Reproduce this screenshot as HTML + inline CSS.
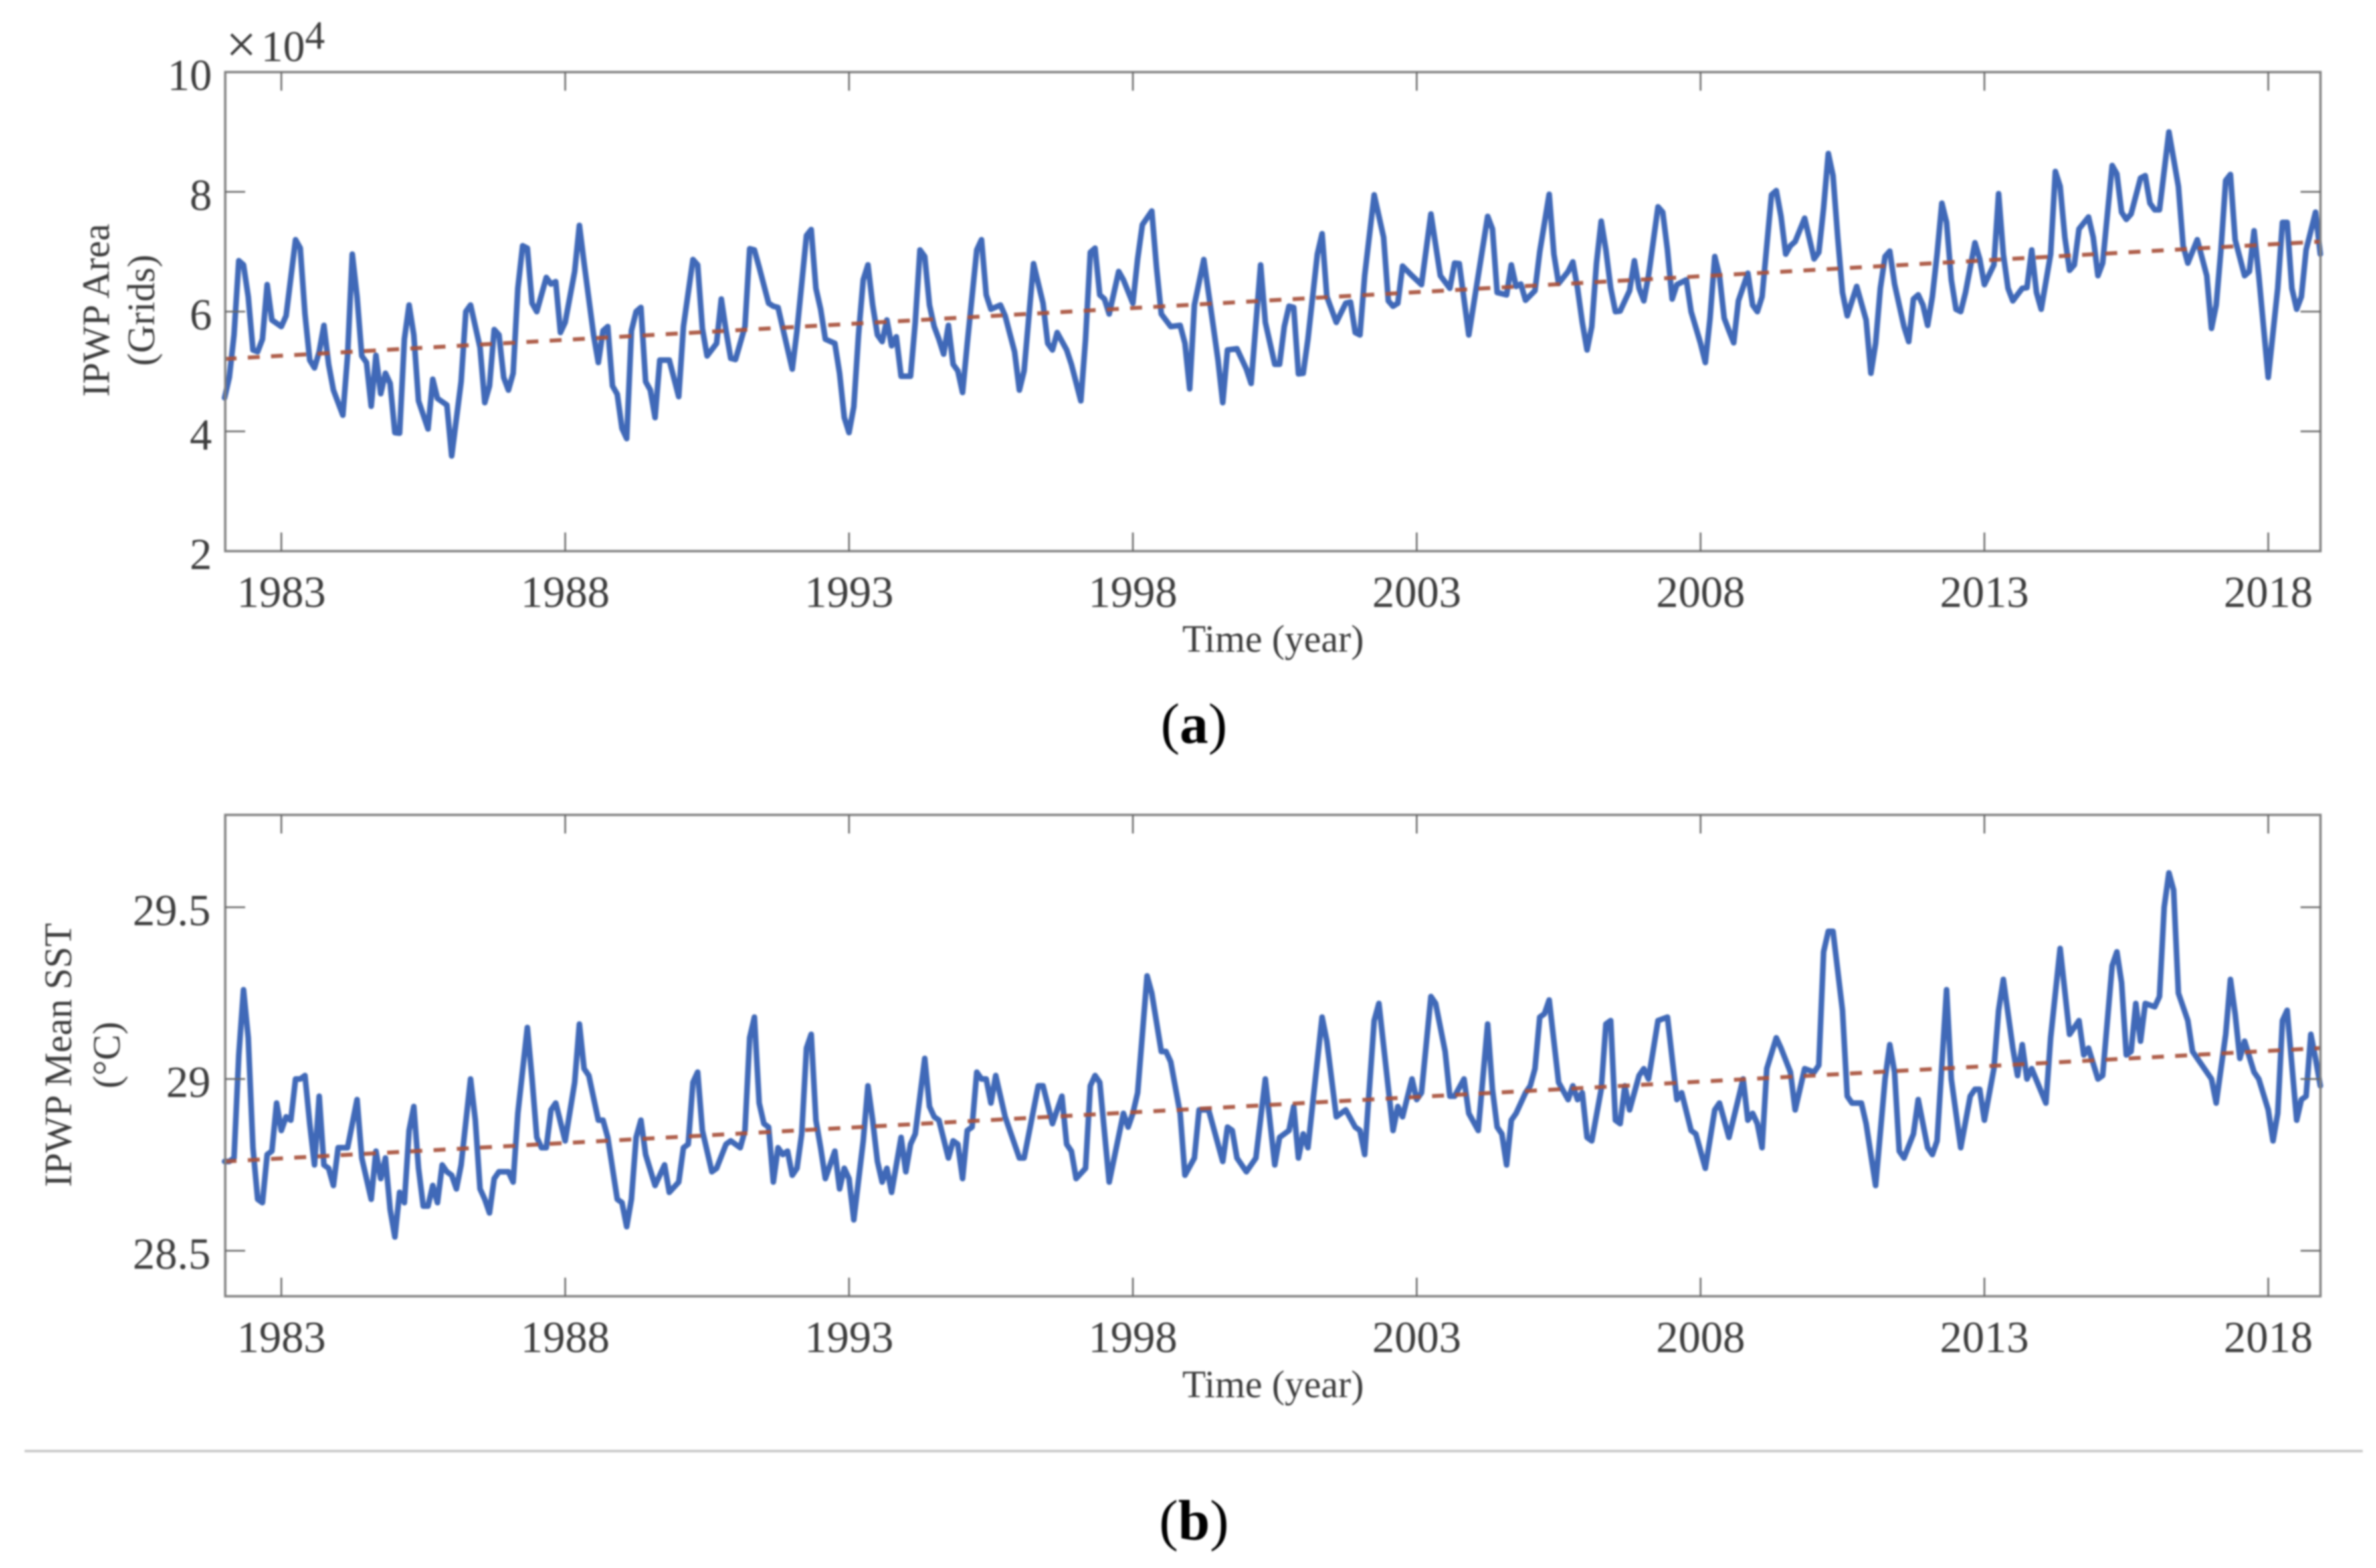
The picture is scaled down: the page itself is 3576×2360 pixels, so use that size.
<!DOCTYPE html>
<html lang="en">
<head>
<meta charset="utf-8">
<title>IPWP Area and Mean SST</title>
<style>
html,body{margin:0;padding:0;background:#fff;}
#figure{display:block;width:3576px;height:2360px;filter:blur(1.3px);}
text{font-family:"Liberation Serif",serif;fill:#3c3c3c;}
.tick{font-size:67px;}
.title{font-size:58px;}
.cap{font-size:86px;fill:#000;}
</style>
</head>
<body>
<svg id="figure" xmlns="http://www.w3.org/2000/svg" width="3576" height="2360" viewBox="0 0 3576 2360">
  <rect width="3576" height="2360" fill="#fff"/>
  <g id="panel-a"></g>
  <g id="panel-b"></g>

  <g>
    <text x="340" y="94" font-size="82">×</text>
    <text x="393" y="92" font-size="66">10</text>
    <text x="459" y="73" font-size="60">4</text>
  </g>
  <text class="title" transform="translate(164 467) rotate(-90)" text-anchor="middle">IPWP Area</text>
  <text class="title" transform="translate(232 467) rotate(-90)" text-anchor="middle">(Grids)</text>
  <text class="title" x="1916" y="981" text-anchor="middle">Time (year)</text>
  <text class="cap" x="1797" y="1118" text-anchor="middle">(<tspan font-weight="bold">a</tspan>)</text>

  <text class="title" transform="translate(107 1588) rotate(-90)" text-anchor="middle">IPWP Mean SST</text>
  <text class="title" transform="translate(180 1588) rotate(-90)" text-anchor="middle">(°C)</text>
  <text class="title" x="1916" y="2103" text-anchor="middle">Time (year)</text>

  <line x1="37" y1="2184" x2="3556" y2="2184" stroke="#c4c4c4" stroke-width="3.5"/>
  <text class="cap" x="1797" y="2317" text-anchor="middle">(<tspan font-weight="bold">b</tspan>)</text>
</svg>

<script>
/* Shared time axis: months counted from January 1982 */
var yearTicks = ["1983","1988","1993","1998","2003","2008","2013","2018"];

/* Panel (a): IPWP area, in units of 10^4 grids */
var areaTicks = [2,4,6,8,10];
var areaMonths = [0,1,2,3,4,5,6,7,8,9,10,12,13,15,16,17,18,19,20,21,22,23,25,26,27,28,29,30,31,32,33,34,35,36,37,38,39,40,41,43,44,45,47,48,50,51,52,54,55,56,57,58,59,60,61,62,63,64,65,66,68,69,70,71,72,74,75,76,78,79,80,81,82,83,84,85,86,87,88,89,90,91,92,94,96,97,99,100,101,102,104,105,106,107,108,110,111,112,113,115,116,117,118,120,121,123,124,
125,126,127,129,130,131,132,133,134,135,136,137,138,139,140,141,142,143,145,146,147,148,149,150,151,152,153,154,155,156,157,159,160,161,162,164,165,167,168,169,171,173,174,175,176,178,179,181,182,183,184,185,186,187,189,190,192,193,194,196,197,198,200,202,203,204,205,207,209,210,211,212,214,216,217,219,220,222,223,224,225,226,227,228,229,231,232,233,235,237,238,239,240,241,243,245,246,247,248,249,251,253,255,257,259,260,261,263,265,267,268,269,271,272,273,274,275,277,278,280,281,282,284,285,286,287,288,
289,290,291,292,293,294,295,297,298,299,300,301,303,304,305,306,307,309,310,312,313,314,315,316,317,318,319,320,322,323,324,325,327,328,329,330,331,332,334,336,337,338,339,340,341,342,343,345,347,348,349,350,351,352,353,355,356,357,358,359,360,361,362,363,364,365,366,367,368,370,371,372,374,375,376,377,378,380,381,382,383,384,386,387,388,389,390,391,392,394,395,396,397,399,400,401,402,403,405,406,407,408,409,411,412,413,414,415,417,419,420,421,422,423,424,425,427,428,429,430,431,432,434,435,436,437,438,439,440,442,443];
var areaValues = [4.56,4.90,5.61,6.85,6.78,6.25,5.36,5.33,5.54,6.45,5.86,5.75,5.93,7.20,7.06,5.96,5.19,5.06,5.33,5.77,5.12,4.69,4.27,5.26,6.96,6.25,5.26,5.15,4.42,5.27,4.63,4.97,4.80,3.98,3.97,5.54,6.11,5.61,4.51,4.04,4.87,4.55,4.44,3.59,4.83,6.00,6.11,5.40,4.48,4.76,5.70,5.61,4.90,4.69,4.97,6.39,7.10,7.06,6.14,6.00,6.57,6.46,6.50,5.65,5.82,6.67,7.44,6.81,5.61,5.15,5.68,5.75,4.76,4.62,4.05,3.88,5.68,6.00,6.07,4.83,4.69,4.23,5.19,5.19,4.58,5.75,6.87,6.78,5.72,5.26,5.47,6.21,5.68,5.22,5.20,5.75,7.05,7.03,6.74,6.14,6.09,6.07,5.72,5.04,5.68,7.27,7.37,
6.39,6.04,5.54,5.47,4.97,4.23,3.98,4.41,5.61,6.53,6.78,6.11,5.61,5.50,5.86,5.43,5.58,4.92,4.92,5.82,7.03,6.92,6.11,5.75,5.54,5.29,5.77,5.12,5.01,4.65,5.47,7.03,7.20,6.28,6.04,6.11,5.93,5.33,4.69,5.01,6.80,6.14,5.47,5.36,5.65,5.36,5.12,4.51,5.54,6.99,7.06,6.28,6.21,5.96,6.67,6.53,6.14,6.88,7.45,7.68,6.74,5.96,5.75,5.77,5.47,4.71,6.11,6.87,5.75,5.19,4.48,5.36,5.38,5.04,4.80,6.78,5.82,5.12,5.12,5.75,6.09,6.07,4.96,4.97,5.54,6.96,7.30,6.25,5.82,6.14,6.16,5.65,5.61,6.60,7.95,7.24,6.18,6.09,6.14,6.76,6.60,6.45,7.63,6.60,6.39,6.81,6.80,5.61,6.60,7.59,7.38,6.32,6.28,6.78,6.42,6.46,6.19,6.35,7.00,7.96,6.96,6.47,6.67,6.83,6.39,5.82,5.36,
5.75,6.81,7.51,7.03,6.39,6.00,6.01,6.35,6.85,6.39,6.18,6.60,7.75,7.66,7.03,6.21,6.45,6.53,6.00,5.47,5.15,5.89,6.92,6.60,5.89,5.68,5.48,6.18,6.64,6.11,6.00,6.25,7.95,8.02,7.59,6.96,7.10,7.17,7.56,6.88,6.99,7.73,8.64,8.27,7.24,6.32,5.93,6.42,5.86,4.97,5.47,6.39,6.92,7.01,6.46,5.75,5.50,6.21,6.28,6.11,5.77,6.25,6.96,7.81,7.49,6.53,6.04,6.00,6.32,7.15,6.88,6.45,6.78,7.97,6.96,6.39,6.18,6.39,6.40,7.03,6.32,6.04,6.96,8.34,8.09,7.24,6.69,6.78,7.38,7.58,7.24,6.60,6.81,8.44,8.30,7.66,7.54,7.63,8.23,8.27,7.81,7.70,7.70,9.00,8.55,8.09,7.10,6.81,7.20,6.60,5.72,6.11,7.03,8.19,8.29,7.20,6.60,6.67,7.35,6.60,5.75,4.90,6.39,7.49,7.49,6.39,6.04,6.25,7.03,7.66,6.96];
var areaTrendMonths = [0,443];
var areaTrendValues = [5.21,7.17];

/* Panel (b): IPWP mean SST, degrees Celsius */
var sstTicks = ["28.5","29","29.5"];
var sstMonths = [0,1,2,3,4,5,6,7,8,9,10,11,12,13,14,15,16,17,18,19,20,21,22,23,24,26,28,29,31,32,33,34,35,36,37,38,39,40,41,42,43,44,45,46,47,48,49,50,52,53,54,55,56,57,58,60,61,62,64,65,66,67,68,69,70,72,74,75,76,77,79,80,81,83,84,85,86,87,88,89,91,93,94,96,97,98,99,100,101,103,104,106,107,109,110,111,112,113,114,115,116,117,118,119,120,121,122,123,124,125,126,127,129,130,131,132,133,
135,136,137,138,139,140,141,143,144,145,146,148,149,150,151,153,154,155,156,157,158,159,160,161,162,163,165,166,168,169,172,173,175,177,178,179,180,182,183,184,185,187,190,191,192,193,195,196,198,199,200,202,203,205,206,208,211,212,213,214,216,218,220,222,223,225,226,227,228,229,232,233,235,237,239,240,241,243,244,247,248,249,251,252,253,255,256,258,259,260,262,263,265,267,268,269,270,271,272,273,275,276,277,278,279,280,282,284,285,286,287,288,
289,291,292,293,294,295,296,297,299,300,301,303,305,307,308,310,311,313,315,316,318,321,322,323,324,325,326,328,329,331,332,334,336,337,338,339,340,342,343,344,346,347,349,351,352,353,354,355,357,358,359,360,361,362,364,365,367,369,370,371,372,374,375,376,378,379,380,381,382,385,386,388,390,392,393,394,396,397,399,400,401,402,403,404,405,406,408,409,410,411,412,413,415,416,418,420,421,423,424,425,426,427,429,430,432,433,434,435,436,438,439,440,441,442,443];
var sstValues = [28.76,28.76,28.77,29.07,29.26,29.12,28.80,28.65,28.64,28.78,28.79,28.93,28.85,28.89,28.88,29.00,29.00,29.01,28.87,28.75,28.95,28.75,28.74,28.69,28.80,28.80,28.94,28.77,28.65,28.79,28.71,28.77,28.62,28.54,28.67,28.64,28.85,28.92,28.74,28.63,28.63,28.69,28.64,28.75,28.73,28.72,28.68,28.75,29.00,28.88,28.68,28.65,28.61,28.71,28.73,28.73,28.70,28.90,29.15,29.00,28.83,28.80,28.80,28.91,28.93,28.82,28.99,29.16,29.03,29.01,28.88,28.88,28.83,28.65,28.64,28.57,28.65,28.83,28.88,28.78,28.69,28.75,28.67,28.70,28.80,28.81,28.99,29.02,28.85,28.73,28.74,28.81,28.82,28.80,28.85,29.12,29.18,28.93,28.87,28.86,28.70,28.80,28.78,28.79,28.72,28.74,28.84,29.09,29.13,28.88,28.80,28.71,28.79,28.68,28.74,28.71,28.59,
28.82,28.98,28.88,28.76,28.70,28.74,28.67,28.83,28.73,28.81,28.84,29.06,28.92,28.89,28.88,28.77,28.82,28.81,28.71,28.85,28.86,29.02,29.00,29.00,28.93,29.01,28.89,28.85,28.77,28.77,28.98,28.98,28.87,28.95,28.81,28.79,28.71,28.74,28.98,29.01,28.99,28.70,28.90,28.86,28.90,28.96,29.30,29.25,29.08,29.08,29.05,28.90,28.72,28.77,28.91,28.91,28.76,28.86,28.85,28.77,28.73,28.77,29.00,28.75,28.83,28.85,28.92,28.77,28.84,28.80,29.18,29.11,28.89,28.91,28.86,28.85,28.78,29.17,29.22,28.85,28.92,28.89,29.00,28.94,28.96,29.24,29.22,29.08,28.95,28.95,29.00,28.90,28.85,29.16,28.97,28.86,28.84,28.75,28.88,28.90,28.96,28.98,29.03,29.18,29.19,29.23,28.99,28.94,28.98,28.94,28.96,28.83,
28.82,28.97,29.16,29.17,28.88,28.87,28.98,28.91,29.01,29.03,29.00,29.17,29.18,28.94,28.96,28.85,28.84,28.74,28.91,28.93,28.83,29.00,28.88,28.90,28.87,28.80,29.03,29.12,29.09,29.02,28.91,29.03,29.02,29.04,29.37,29.43,29.43,29.20,28.95,28.93,28.93,28.87,28.69,29.00,29.10,29.02,28.79,28.77,28.84,28.94,28.87,28.80,28.78,28.82,29.26,29.00,28.80,28.95,28.97,28.97,28.88,29.03,29.20,29.29,29.09,29.01,29.10,29.00,29.03,28.93,29.12,29.38,29.13,29.17,29.07,29.09,29.00,29.01,29.33,29.37,29.28,29.07,29.08,29.22,29.11,29.22,29.21,29.24,29.50,29.60,29.55,29.25,29.17,29.08,29.04,29.00,28.93,29.13,29.29,29.19,29.06,29.11,29.02,29.00,28.91,28.82,28.90,29.17,29.20,28.88,28.94,28.95,29.13,29.06,28.98];
var sstTrendMonths = [0,443];
var sstTrendValues = [28.76,29.09];

var SVGNS = "http://www.w3.org/2000/svg";
var plotLeft = 339, monthWidth = 7.12, plotRight = plotLeft + 442.9 * monthWidth;
var BLUE = "#4069b8", RED = "#a8513c", AXIS = "#808080";

function xFromMonth(m) { return 338 + m * monthWidth; }
function monthOfYear(label) { return (Number(label) - 1982) * 12; }

function node(parent, tag, attrs) {
  var el = document.createElementNS(SVGNS, tag);
  for (var k in attrs) { el.setAttribute(k, attrs[k]); }
  parent.appendChild(el);
  return el;
}

function pointsFrom(months, values, yFromValue) {
  return months.map(function (m, i) {
    return xFromMonth(m).toFixed(1) + "," + yFromValue(values[i]).toFixed(1);
  }).join(" ");
}

function drawPanel(group, top, bottom, yFromValue, yLabels, months, values, trendMonths, trendValues, labelRight) {
  var line = node(group, "polyline", {points: pointsFrom(months, values, yFromValue), fill: "none", stroke: BLUE, "stroke-width": 8.5, "stroke-linejoin": "round", "stroke-linecap": "round"});
  
  

  var trend = node(group, "polyline", {points: pointsFrom(trendMonths, trendValues, yFromValue), fill: "none", stroke: RED, "stroke-width": 6, "stroke-dasharray": "18 17", opacity: 0.92});
  
  

  var frame = node(group, "rect", {x: plotLeft, y: top, width: plotRight - plotLeft, height: bottom - top, fill: "none", stroke: AXIS, "stroke-width": 3.5});
  
  

  yearTicks.forEach(function (label) {
    var x = xFromMonth(monthOfYear(label));
    var t1 = node(group, "line", {x1: x, x2: x, y1: top, y2: top + 28, stroke: "#666", "stroke-width": 2.5});
    
    
    var t2 = node(group, "line", {x1: x, x2: x, y1: bottom, y2: bottom - 28, stroke: "#666", "stroke-width": 2.5});
    
    
    var txt = node(group, "text", {x: x, y: bottom + 84, "text-anchor": "middle", "class": "tick"});
    
    
    txt.textContent = label;
  });

  yLabels.forEach(function (label) {
    var y = yFromValue(Number(label));
    var isEdge = Math.abs(y - top) < 2 || Math.abs(y - bottom) < 2;
    if (!isEdge) {
      var t1 = node(group, "line", {x1: plotLeft, x2: plotLeft + 30, y1: y, y2: y, stroke: "#666", "stroke-width": 2.5});
      
      
      var t2 = node(group, "line", {x1: plotRight, x2: plotRight - 30, y1: y, y2: y, stroke: "#666", "stroke-width": 2.5});
      
      
    }
    var txt = node(group, "text", {x: labelRight, y: y + 27, "text-anchor": "end", "class": "tick"});
    
    
    txt.textContent = String(label);
  });
}

function yArea(v) { return 829.5 - (v - 2) * (829.5 - 108.5) / 8; }
function ySst(v) { return 1624 - (v - 29) * 517; }

drawPanel(document.getElementById("panel-a"), 108.5, 829.5, yArea, areaTicks, areaMonths, areaValues, areaTrendMonths, areaTrendValues, 319);
drawPanel(document.getElementById("panel-b"), 1226.5, 1951, ySst, sstTicks, sstMonths, sstValues, sstTrendMonths, sstTrendValues, 317);
</script>
</body>
</html>
